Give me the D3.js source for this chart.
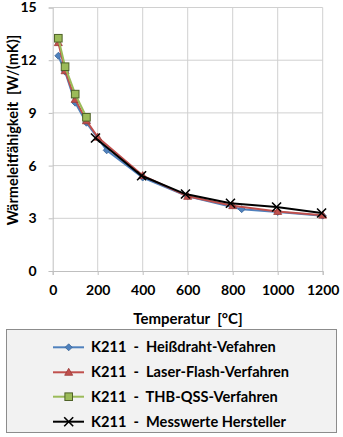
<!DOCTYPE html>
<html><head><meta charset="utf-8">
<script src="https://cdn.jsdelivr.net/npm/d3@7"></script>
<style>
html,body{margin:0;padding:0;background:#fff;}
svg{display:block;font-family:Lato,"Open Sans",sans-serif;font-weight:bold;}
text{white-space:pre;}
</style></head>
<body>
<svg id="c" width="343" height="437"></svg>
<script>
const xTicks = [0,200,400,600,800,1000,1200];
const yTicks = [0,3,6,9,12,15];
const xTitle = "Temperatur  [°C]";
const yTitle = "Wärmeleitfähigkeit  [W/(mK)]";

const seriesNames = [
  "K211  -  Heißdraht-Vefahren",
  "K211  -  Laser-Flash-Verfahren",
  "K211  -  THB-QSS-Verfahren",
  "K211  -  Messwerte Hersteller"
];
const heissdrahtT = [25, 55, 100, 150, 240, 400, 600, 840, 1000, 1200];
const heissdrahtV = [12.25, 11.35, 9.58, 8.44, 6.87, 5.32, 4.25, 3.52, 3.36, 3.15];
const laserT = [25, 55, 100, 150, 200, 400, 600, 800, 1000, 1200];
const laserV = [13.0, 11.4, 9.77, 8.55, 7.62, 5.43, 4.25, 3.72, 3.39, 3.18];
const thbT = [25, 55, 100, 150];
const thbV = [13.25, 11.63, 10.07, 8.75];
const herstellerT = [190, 395, 590, 790, 995, 1195];
const herstellerV = [7.57, 5.42, 4.38, 3.86, 3.64, 3.3];

const colors = ["#4F81BD", "#C0504D", "#9BBB59", "#000000"];
const strokes = ["#3A6597", "#9A3B39", "#4F6228", "#000000"];
const symbols = ["diamond", "triangle", "square", "cross"];

const series = [
  heissdrahtT.map((t,i)=>({t, v:heissdrahtV[i]})),
  laserT.map((t,i)=>({t, v:laserV[i]})),
  thbT.map((t,i)=>({t, v:thbV[i]})),
  herstellerT.map((t,i)=>({t, v:herstellerV[i]}))
];

const svg = d3.select("#c");
const x = d3.scaleLinear().domain([0,1200]).range([52.7, 322.7]);
const y = d3.scaleLinear().domain([0,15]).range([271, 7.5]);
const gridColor = "#d0d0d0";

svg.append("g").selectAll("line").data(xTicks.slice(1)).join("line")
  .attr("x1", d=>x(d)).attr("x2", d=>x(d)).attr("y1", y(15)).attr("y2", y(0))
  .attr("stroke", gridColor).attr("stroke-width", 1);
svg.append("g").selectAll("line").data(yTicks.slice(1)).join("line")
  .attr("x1", x(0)).attr("x2", x(1200)).attr("y1", d=>y(d)).attr("y2", d=>y(d))
  .attr("stroke", gridColor).attr("stroke-width", 1);

const xAxis = svg.append("g").attr("transform", `translate(0,${y(0)})`)
  .call(d3.axisBottom(x).tickValues(xTicks).tickFormat(d3.format("d")).tickSize(4).tickPadding(10));
const yAxis = svg.append("g").attr("transform", `translate(${x(0)},0)`)
  .call(d3.axisLeft(y).tickValues(yTicks).tickFormat(d3.format("d")).tickSize(4).tickPadding(12));
[xAxis, yAxis].forEach(a=>{
  a.select(".domain").attr("stroke", "#bfbfbf");
  a.selectAll(".tick line").attr("stroke", "#bfbfbf");
  a.selectAll("text").attr("fill", "#000").style("font-size", "14px")
   .style("font-family", "Lato, 'Open Sans', sans-serif").style("font-weight", "bold");
});

svg.append("text").attr("x", 188).attr("y", 324).attr("text-anchor", "middle")
  .style("font-size", "15px").text(xTitle);
svg.append("text").attr("transform", "translate(18,130) rotate(-90)").attr("text-anchor", "middle")
  .style("font-size", "14.5px").text(yTitle);

function drawMarker(g, type, i, cx, cy) {
  if (type === "diamond") {
    g.append("path").attr("d", `M${cx},${cy-3.5}L${cx+3.5},${cy}L${cx},${cy+3.5}L${cx-3.5},${cy}Z`)
      .attr("fill", colors[i]).attr("stroke", strokes[i]).attr("stroke-width", 0.8);
  } else if (type === "triangle") {
    g.append("path").attr("d", `M${cx},${cy-4}L${cx+4},${cy+3}L${cx-4},${cy+3}Z`)
      .attr("fill", colors[i]).attr("stroke", strokes[i]).attr("stroke-width", 0.8);
  } else if (type === "square") {
    g.append("rect").attr("x", cx-3.8).attr("y", cy-3.8).attr("width", 7.6).attr("height", 7.6)
      .attr("fill", colors[i]).attr("stroke", strokes[i]).attr("stroke-width", 1);
  } else {
    g.append("path").attr("d", `M${cx-4.5},${cy-4.5}L${cx+4.5},${cy+4.5}M${cx-4.5},${cy+4.5}L${cx+4.5},${cy-4.5}`)
      .attr("stroke", "#000").attr("stroke-width", 1.6);
  }
}

const line = d3.line().x(d=>x(d.t)).y(d=>y(d.v));
series.forEach((s, i) => {
  const g = svg.append("g");
  g.append("path").datum(s).attr("d", line).attr("fill", "none")
    .attr("stroke", colors[i]).attr("stroke-width", 2);
  s.forEach(d => drawMarker(g, symbols[i], i, x(d.t), y(d.v)));
});

const lg = svg.append("g");
lg.append("rect").attr("x", 6.5).attr("y", 329.5).attr("width", 330).attr("height", 103)
  .attr("fill", "#f2f2f2").attr("stroke", "#8c8c8c").attr("stroke-width", 1);
const rowY = [347.3, 372.3, 396.7, 421.7];
seriesNames.forEach((name, i) => {
  const cy = rowY[i];
  lg.append("line").attr("x1", 53).attr("x2", 84).attr("y1", cy).attr("y2", cy)
    .attr("stroke", colors[i]).attr("stroke-width", 2);
  drawMarker(lg, symbols[i], i, 68.7, cy);
  lg.append("text").attr("x", 91).attr("y", cy + 5).style("font-size", "14.6px").text(name);
});
</script>
</body></html>
